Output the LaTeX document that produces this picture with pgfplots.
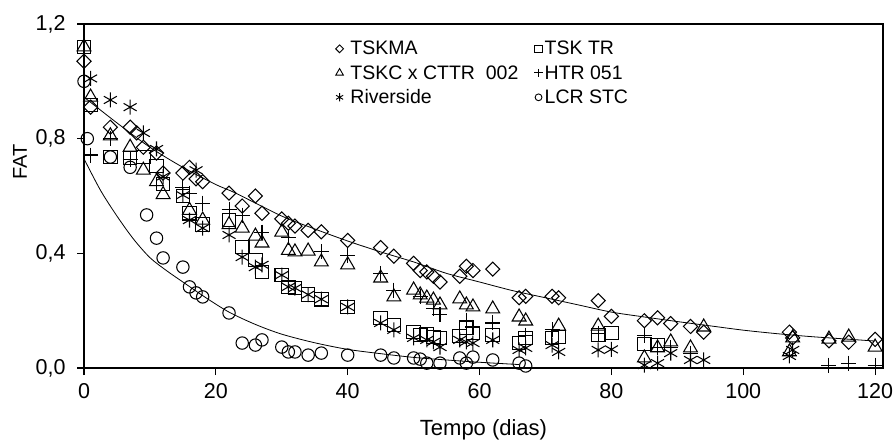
\documentclass[border=0pt]{standalone}
\usepackage{pgfplots}
\pgfplotsset{compat=1.18}
\usepackage{fontspec}
\setmainfont{Liberation Sans}
\begin{document}
\begin{tikzpicture}
\begin{axis}[
  width=799pt, height=344pt, scale only axis,
  xmin=0, xmax=121.2, ymin=0, ymax=1.2,
  xtick={0,20,40,60,80,100,120}, ytick={0,0.4,0.8,1.2},
  tick align=outside, xtick pos=bottom, ytick pos=left,
  major tick length=7pt,
  axis line style={line width=1.1pt},
  every tick/.style={black, line width=1.1pt},
  /pgf/number format/assume math mode=true,
  tick label style={font=\fontsize{21.5}{26}\selectfont},
  xticklabel style={yshift=-5pt},
  yticklabel style={xshift=-8pt, /pgf/number format/.cd, fixed, fixed zerofill, precision=1, use comma},
  xlabel={Tempo (dias)}, ylabel={FAT},
  xlabel style={font=\fontsize{22}{26}\selectfont, at={(axis description cs:0.5,0)}, anchor=base, yshift=-67pt},
  ylabel style={font=\fontsize{20}{24}\selectfont, at={(axis description cs:-0.08,0.6)}, anchor=center},
  legend columns=2,
  legend cell align=left,
  legend style={draw=none, fill=none, at={(0.311,0.962)}, anchor=north west,
    font=\fontsize{19.5}{23}\selectfont, row sep=5pt,
    /tikz/column 1/.style={column sep=5pt},
    /tikz/column 2/.style={column sep=14pt}},
  legend image code/.code={\draw[#1, line width=0.9pt, every mark/.append style={scale=0.55}] plot coordinates {(0pt,0pt)};},
  every axis plot/.append style={black, line width=1.05pt},
]
% fitted curves
\addplot[no marks, smooth, line width=0.8pt, forget plot] coordinates {
(0,0.945)(5,0.855)(10,0.77)(15,0.70)(20,0.64)(23,0.61)(30,0.53)(35,0.485)(40,0.443)(45,0.405)(50,0.37)(55,0.33)(60,0.30)(65,0.27)(70,0.245)(75,0.22)(80,0.195)(85,0.178)(90,0.162)(95,0.147)(100,0.132)(105,0.12)(110,0.11)(115,0.102)(120,0.094)};
\addplot[no marks, smooth, line width=0.8pt, forget plot] coordinates {
(0,0.73)(2.5,0.62)(5,0.53)(7.5,0.45)(10,0.385)(12.5,0.34)(15,0.30)(18.5,0.245)(22,0.195)(26,0.152)(30,0.118)(35,0.088)(40,0.065)(45,0.05)(50,0.037)(55,0.028)(60,0.02)(66,0.012)};
% TSKMA
\addplot[only marks, mark=square, mark size=5pt, mark options={rotate=45}] coordinates {
(0,1.07)(1,0.91)(4,0.84)(7,0.84)(8,0.82)(9,0.77)(11,0.75)(12,0.68)(15,0.68)(16,0.70)(17,0.66)(18,0.65)(22,0.61)(24,0.565)(26,0.60)(27,0.54)(30,0.52)(31,0.505)(32,0.495)(34,0.48)(36,0.475)(40,0.445)(45,0.42)(47,0.39)(50,0.365)(51,0.34)(52,0.335)(53,0.32)(54,0.30)(57,0.32)(58,0.355)(59,0.34)(62,0.345)(66,0.245)(67,0.25)(71,0.25)(72,0.245)(78,0.235)(80,0.18)(85,0.165)(87,0.175)(89,0.155)(92,0.145)(94,0.125)(107,0.125)(107.5,0.105)(113,0.095)(116,0.09)(120,0.10)};
\addlegendentry{TSKMA}
% TSK TR
\addplot[only marks, mark=square, mark size=6.8pt] coordinates {
(0,1.12)(1,0.917)(4,0.736)(7,0.733)(9,0.736)(11,0.705)(12,0.642)(15,0.60)(16,0.54)(18,0.50)(22,0.516)(24,0.422)(26,0.377)(27,0.335)(30,0.324)(31,0.283)(32,0.279)(34,0.256)(36,0.24)(40,0.213)(45,0.174)(47,0.15)(50,0.126)(51,0.115)(52,0.119)(53,0.108)(54,0.105)(57,0.112)(58,0.14)(59,0.122)(62,0.115)(66,0.087)(67,0.105)(71,0.105)(72,0.108)(78,0.115)(80,0.122)(85,0.084)(87,0.08)};
\addlegendentry{TSK TR}
% TSKC x CTTR 002
\addplot[only marks, mark=triangle, mark size=8pt] coordinates {
(0,1.12)(1,0.945)(4,0.81)(7,0.77)(9,0.69)(11,0.65)(12,0.605)(16,0.55)(18,0.516)(22,0.50)(24,0.488)(26,0.46)(27,0.436)(30,0.474)(31,0.41)(32,0.405)(34,0.408)(36,0.37)(40,0.36)(45,0.314)(47,0.248)(50,0.272)(51,0.255)(52,0.244)(53,0.237)(54,0.22)(57,0.241)(58,0.22)(59,0.213)(62,0.206)(66,0.178)(67,0.164)(72,0.146)(78,0.146)(85,0.035)(87,0.07)(89,0.091)(92,0.07)(94,0.143)(107,0.056)(107.5,0.105)(113,0.101)(116,0.108)(120,0.073)};
\addlegendentry{TSKC x CTTR\ \ 002}
% HTR 051
\addplot[only marks, mark=+, mark size=7.5pt] coordinates {
(1,0.743)(4,0.80)(7,0.726)(15,0.63)(16,0.61)(18,0.575)(22,0.553)(24,0.533)(27,0.474)(31,0.455)(36,0.405)(40,0.394)(45,0.33)(47,0.272)(51,0.248)(53,0.209)(54,0.185)(58,0.167)(59,0.143)(62,0.157)(67,0.115)(71,0.133)(78,0.122)(85,0.115)(87,0.07)(89,0.07)(92,0.052)(107,0.045)(113,0.01)(116,0.017)(120,0.01)};
\addlegendentry{HTR 051}
% Riverside
\addplot[only marks, mark=asterisk, mark size=7.5pt] coordinates {
(1,1.01)(4,0.935)(7,0.91)(9,0.82)(11,0.764)(12,0.668)(15,0.603)(16,0.516)(17,0.69)(18,0.488)(22,0.464)(24,0.387)(26,0.352)(27,0.36)(30,0.324)(31,0.283)(32,0.279)(34,0.256)(36,0.24)(40,0.213)(45,0.157)(47,0.133)(50,0.105)(52,0.098)(53,0.091)(54,0.073)(57,0.098)(58,0.091)(59,0.087)(62,0.098)(66,0.063)(67,0.07)(71,0.08)(72,0.056)(78,0.063)(80,0.065)(85,0.01)(87,0.017)(89,0.052)(92,0.028)(94,0.028)(107,0.042)(107.5,0.063)};
\addlegendentry{Riverside}
% LCR STC
\addplot[only marks, mark=o, mark size=6.2pt] coordinates {
(0,1.0)(0.5,0.80)(4,0.736)(7,0.70)(9.5,0.534)(11,0.453)(12,0.384)(15,0.352)(16,0.283)(17,0.262)(18,0.248)(22,0.192)(24,0.087)(26,0.08)(27,0.098)(30,0.073)(31,0.056)(32,0.056)(34,0.045)(36,0.052)(40,0.045)(45,0.045)(47,0.035)(50,0.035)(51,0.031)(52,0.017)(54,0.017)(57,0.035)(58,0.017)(59,0.038)(62,0.028)(66,0.017)(67,0.007)};
\addlegendentry{LCR STC}
\end{axis}
\pgfresetboundingbox
\useasboundingbox ([shift={(-84pt,-71pt)}]current axis.south west) rectangle ([shift={(10pt,24pt)}]current axis.north east);
\end{tikzpicture}
\end{document}
